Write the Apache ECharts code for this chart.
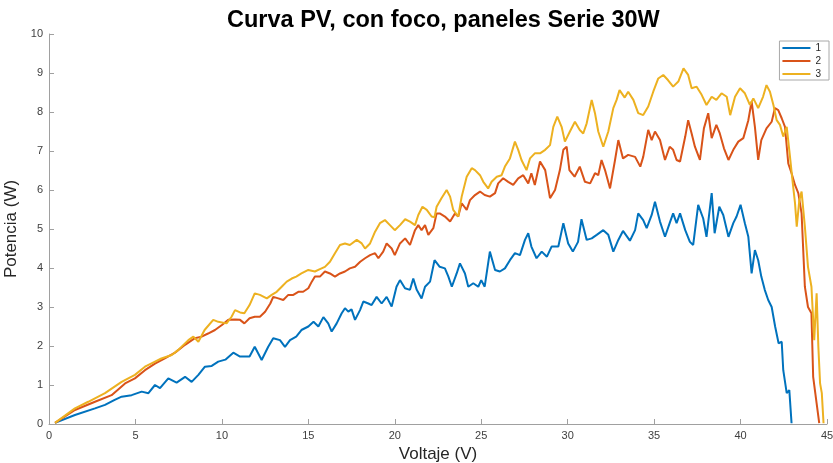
<!DOCTYPE html>
<html>
<head>
<meta charset="utf-8">
<script src="https://cdn.jsdelivr.net/npm/echarts@6/dist/echarts.min.js"></script>
<style>
  html, body { margin: 0; padding: 0; background: #fff; }
  #chart { width: 833px; height: 463px; }
</style>
</head>
<body>
<div id="chart"></div>
<script>
// curva 1 (azul) - [voltaje, potencia]
var serie1 = [[0.35,0.03],[1.5,0.23],[2.66,0.40],[3.24,0.49],[3.8,0.62],[4.2,0.70],[4.78,0.74],[5.36,0.83],[5.75,0.79],[6.13,1.0],
  [6.42,0.92],[6.9,1.17],[7.38,1.06],[7.87,1.21],[8.25,1.08],[8.64,1.26],[9.02,1.47],[9.41,1.49],[9.79,1.60],[10.2,1.65],
  [10.66,1.83],[11.05,1.73],[11.6,1.73],[11.9,1.98],[12.3,1.64],[12.68,1.98],[12.97,2.2],[13.36,2.15],[13.65,1.98],[13.94,2.15],
  [14.3,2.24],[14.6,2.41],[15.0,2.5],[15.3,2.62],[15.58,2.5],[15.87,2.74],[16.15,2.58],[16.35,2.37],[16.64,2.58],[16.93,2.84],
  [17.12,2.97],[17.31,2.88],[17.5,2.94],[17.7,2.67],[17.99,2.92],[18.18,3.14],[18.47,3.09],[18.66,3.05],[18.95,3.26],[19.24,3.09],
  [19.53,3.26],[19.82,3.01],[20.1,3.52],[20.3,3.69],[20.59,3.48],[20.88,3.44],[21.07,3.73],[21.27,3.44],[21.55,3.22],[21.75,3.52],
  [22.04,3.65],[22.3,4.2],[22.6,4.03],[22.9,3.99],[23.1,3.78],[23.3,3.52],[23.58,3.86],[23.77,4.12],[24.06,3.86],[24.25,3.52],
  [24.54,3.61],[24.83,3.52],[25.0,3.69],[25.2,3.52],[25.5,4.42],[25.8,3.95],[26.08,3.91],[26.37,3.99],[26.66,4.2],[26.95,4.38],
  [27.24,4.33],[27.53,4.72],[27.72,4.89],[27.9,4.55],[28.2,4.25],[28.5,4.42],[28.8,4.29],[29.07,4.55],[29.46,4.55],[29.75,5.15],
  [30.03,4.63],[30.3,4.42],[30.6,4.67],[30.8,5.25],[31.1,4.72],[31.39,4.76],[31.68,4.85],[32.06,4.97],[32.35,4.85],[32.64,4.42],
  [32.93,4.72],[33.2,4.95],[33.6,4.7],[33.9,4.97],[34.08,5.4],[34.37,5.23],[34.57,5.02],[34.86,5.36],[35.05,5.7],[35.34,5.19],
  [35.63,4.8],[35.9,5.15],[36.1,5.4],[36.3,5.15],[36.5,5.4],[36.8,4.97],[37.07,4.67],[37.26,4.59],[37.55,5.62],[37.84,5.27],
  [38.03,4.8],[38.33,5.92],[38.5,4.89],[38.77,5.57],[39.0,5.36],[39.3,4.8],[39.58,5.15],[39.77,5.32],[40.0,5.62],[40.25,5.15],
  [40.45,4.8],[40.64,3.86],[40.83,4.46],[41.02,4.2],[41.2,3.78],[41.4,3.44],[41.6,3.18],[41.8,3.0],[42.0,2.5],[42.2,2.07],
  [42.38,2.11],[42.47,1.38],[42.67,0.79],[42.82,0.87],[42.95,0.02]];

// curva 2 (naranja)
var serie2 = [[0.35,0.03],[1.5,0.36],[2.66,0.57],[3.62,0.74],[4.4,1.04],[4.97,1.17],[5.55,1.38],[6.13,1.55],[6.7,1.68],[7.29,1.83],
  [7.87,2.03],[8.44,2.2],[8.83,2.24],[9.2,2.32],[9.6,2.41],[10.0,2.54],[10.37,2.67],[10.76,2.68],[11.05,2.67],[11.3,2.58],
  [11.6,2.71],[11.9,2.75],[12.2,2.75],[12.5,2.88],[12.8,3.09],[12.97,3.26],[13.26,3.22],[13.55,3.18],[13.84,3.31],[14.13,3.31],
  [14.42,3.39],[14.7,3.39],[15.0,3.48],[15.2,3.65],[15.38,3.78],[15.67,3.78],[15.96,3.91],[16.25,3.86],[16.54,3.78],[16.83,3.86],
  [17.12,3.91],[17.4,3.99],[17.7,4.03],[18.0,4.16],[18.28,4.25],[18.57,4.33],[18.86,4.38],[19.05,4.25],[19.33,4.42],[19.53,4.63],
  [19.82,4.5],[20.0,4.33],[20.3,4.63],[20.6,4.76],[20.88,4.59],[21.17,4.97],[21.36,5.1],[21.55,4.97],[21.75,5.1],[21.94,4.85],
  [22.23,5.02],[22.42,5.4],[22.6,5.4],[22.9,5.32],[23.2,5.19],[23.48,5.4],[23.67,5.32],[23.87,5.66],[24.16,5.49],[24.35,5.74],
  [24.64,5.87],[24.93,5.96],[25.2,5.87],[25.5,5.83],[25.8,5.92],[25.98,6.17],[26.27,6.3],[26.56,6.21],[26.85,6.13],[27.14,6.3],
  [27.43,6.38],[27.72,6.17],[27.9,6.43],[28.1,6.13],[28.4,6.73],[28.7,6.51],[28.98,5.79],[29.27,6.0],[29.55,6.51],[29.75,7.03],
  [29.94,7.11],[30.1,6.51],[30.4,6.34],[30.7,6.6],[31.0,6.21],[31.3,6.17],[31.58,6.43],[31.77,6.38],[31.96,6.77],[32.16,6.51],
  [32.45,6.04],[32.74,6.77],[32.93,7.28],[33.2,6.81],[33.5,6.9],[33.9,6.85],[34.2,6.6],[34.37,6.85],[34.66,7.54],[34.86,7.28],
  [35.05,7.5],[35.34,7.28],[35.63,6.77],[35.9,7.11],[36.1,7.03],[36.3,6.77],[36.5,6.73],[36.8,7.37],[36.97,7.79],[37.17,7.45],
  [37.36,7.11],[37.65,6.77],[37.88,7.58],[38.13,7.97],[38.33,7.33],[38.6,7.67],[38.8,7.45],[39.04,7.07],[39.3,6.77],[39.58,7.03],
  [39.87,7.24],[40.16,7.33],[40.45,7.79],[40.64,8.27],[40.83,7.62],[41.02,6.77],[41.2,7.28],[41.5,7.58],[41.8,7.75],[41.99,8.1],
  [42.18,8.05],[42.38,7.84],[42.57,7.62],[42.76,6.68],[42.95,6.43],[43.15,6.13],[43.34,5.92],[43.53,5.4],[43.72,3.52],[43.9,3.0],
  [44.1,2.84],[44.2,1.21],[44.4,0.53],[44.55,0.02]];

// curva 3 (amarilla)
var serie3 = [[0.35,0.03],[1.5,0.4],[2.27,0.57],[3.24,0.79],[4.2,1.08],[4.97,1.26],[5.55,1.47],[6.13,1.6],[6.5,1.68],[7.1,1.77],
  [7.48,1.9],[8.06,2.15],[8.35,2.24],[8.64,2.11],[9.0,2.41],[9.5,2.67],[9.79,2.62],[10.27,2.58],[10.56,2.75],[10.76,2.92],
  [11.05,2.86],[11.3,2.84],[11.6,3.05],[11.9,3.35],[12.2,3.31],[12.6,3.22],[12.88,3.31],[13.17,3.39],[13.46,3.52],[13.75,3.65],
  [14.04,3.73],[14.3,3.78],[14.6,3.86],[15.0,3.95],[15.38,3.91],[15.67,3.97],[15.96,4.03],[16.25,4.16],[16.54,4.38],[16.83,4.59],
  [17.12,4.63],[17.4,4.59],[17.8,4.72],[18.09,4.63],[18.28,4.5],[18.57,4.63],[18.86,4.93],[19.14,5.15],[19.43,5.23],[19.72,5.1],
  [20.0,4.97],[20.3,5.1],[20.6,5.25],[20.88,5.19],[21.17,5.1],[21.36,5.36],[21.6,5.57],[21.85,5.49],[22.13,5.32],[22.3,5.3],
  [22.42,5.57],[22.7,5.79],[23.0,6.0],[23.2,5.83],[23.38,5.49],[23.67,5.32],[23.87,5.83],[24.16,6.34],[24.45,6.56],[24.64,6.51],
  [24.93,6.38],[25.12,6.21],[25.4,6.04],[25.6,6.21],[25.9,6.34],[26.18,6.38],[26.37,6.6],[26.66,6.81],[26.95,7.24],[27.14,7.03],
  [27.33,6.77],[27.62,6.51],[27.82,6.81],[28.1,6.94],[28.4,6.94],[28.7,7.03],[28.98,7.15],[29.17,7.62],[29.4,7.88],[29.65,7.62],
  [29.84,7.24],[30.13,7.5],[30.42,7.75],[30.7,7.54],[30.9,7.45],[31.1,7.71],[31.39,8.31],[31.58,7.97],[31.77,7.5],[32.06,7.11],
  [32.35,7.5],[32.64,8.1],[32.83,8.31],[33.0,8.56],[33.3,8.37],[33.5,8.52],[33.8,8.31],[34.08,7.97],[34.37,7.92],[34.66,8.14],
  [34.95,8.52],[35.24,8.86],[35.53,8.95],[35.8,8.82],[36.1,8.65],[36.4,8.78],[36.7,9.12],[36.97,8.95],[37.17,8.61],[37.46,8.65],
  [37.75,8.44],[38.03,8.18],[38.33,8.39],[38.6,8.31],[38.9,8.48],[39.2,8.39],[39.4,7.92],[39.68,8.39],[39.97,8.61],[40.25,8.48],
  [40.54,8.18],[40.74,8.35],[41.02,8.1],[41.3,8.39],[41.5,8.69],[41.7,8.52],[41.9,8.18],[42.09,7.79],[42.28,7.67],[42.47,7.37],
  [42.67,7.62],[42.86,6.85],[43.0,6.26],[43.15,5.66],[43.25,5.06],[43.4,5.74],[43.53,5.96],[43.72,5.06],[43.9,4.03],[44.1,3.52],
  [44.26,2.15],[44.4,3.35],[44.5,1.98],[44.6,1.04],[44.7,0.79],[44.8,0.02]];

var nombres = ['1', '2', '3'];
var colores = ['#0072BD', '#D95319', '#EDB120'];
var fuente = 'Liberation Sans, Arial, Helvetica, sans-serif';

var chart = echarts.init(document.getElementById('chart'));

var ejeBase = {
  type: 'value',
  axisLine: { show: true, lineStyle: { color: '#a0a0a0', width: 1 } },
  axisTick: { show: true, inside: true, length: 5, lineStyle: { color: '#a0a0a0' } },
  splitLine: { show: false },
  axisLabel: { color: '#404040', fontSize: 11, fontFamily: fuente, margin: 6 },
  nameLocation: 'middle',
  nameTextStyle: { color: '#262626', fontSize: 17, fontFamily: fuente }
};

var option = {
  backgroundColor: '#fff',
  animation: false,
  color: colores,
  title: {
    text: 'Curva PV, con foco, paneles Serie 30W',
    left: 222,
    top: 4,
    textStyle: { color: '#000', fontSize: 23.5, fontWeight: 'bold', fontFamily: fuente }
  },
  legend: {
    data: nombres,
    orient: 'vertical',
    right: 4,
    top: 41,
    icon: 'rect',
    itemWidth: 28,
    itemHeight: 2,
    itemGap: 3,
    padding: [2, 8, 1, 3],
    borderColor: '#a8a8a8',
    borderWidth: 1,
    backgroundColor: '#fff',
    textStyle: { color: '#262626', fontSize: 10, fontFamily: fuente }
  },
  grid: { left: 49, right: 6, top: 34, bottom: 39, containLabel: false, outerBoundsMode: 'none' },
  xAxis: Object.assign({}, ejeBase, {
    min: 0, max: 45, interval: 5,
    name: 'Voltaje (V)', nameGap: 21
  }),
  yAxis: Object.assign({}, ejeBase, {
    min: 0, max: 10, interval: 1,
    name: 'Potencia (W)', nameGap: 22
  }),
  series: [serie1, serie2, serie3].map(function (d, i) {
    return {
      name: nombres[i],
      type: 'line',
      data: d,
      symbol: 'none',
      smooth: false,
      lineStyle: { width: 2, color: colores[i] },
      clip: true
    };
  })
};

chart.setOption(option);
</script>
</body>
</html>
